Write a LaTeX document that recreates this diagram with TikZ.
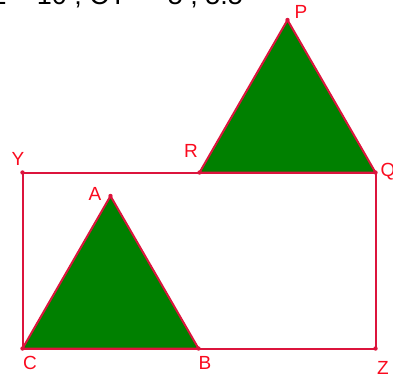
\documentclass[tikz,border=0pt]{standalone}
\usepackage{fontspec}
\setmainfont{Liberation Sans}
\definecolor{edgeCol}{RGB}{220,20,60}
\definecolor{labelCol}{RGB}{250,10,30}
\definecolor{triFill}{RGB}{0,128,0}
\tikzset{
    edge/.style={edgeCol, line width=2pt, line join=round},
    tri/.style={fill=triFill, draw=edgeCol, line width=2pt, line join=round},
    vlabel/.style={text=labelCol, inner sep=0pt, font=\fontsize{19}{22}\selectfont},
    common settings/.style={x=1pt, y=-1pt}
}

\begin{document}
\begin{tikzpicture}[common settings]

    % Frame (pixel grid, y going down)
    \useasboundingbox (0,0) rectangle (393,380);
    \clip (0,0) rectangle (393,380);

    % 1. Vertices
    \coordinate (C) at (22.5,348.5);
    \coordinate (B) at (198.5,348.5);
    \coordinate (A) at (110.5,196);
    \coordinate (Z) at (375.5,348.5);
    \coordinate (Y) at (22.5,172.5);
    \coordinate (R) at (199.5,172.5);
    \coordinate (Q) at (375.5,172.5);
    \coordinate (P) at (287.5,20);

    % Heading (cut off by the top edge)
    \node[anchor=base west, inner sep=0pt, font=\fontsize{27}{30}\selectfont] (head) at (-30,5)
        {CZ = 10 ; CY =\hspace{10pt} 5 , 5.5};

    % 2. Rectangle CZQY
    \draw[edge] (C) -- (Z) -- (Q) -- (Y) -- cycle;

    % 3. Triangles
    \path[tri] (C) -- (B) -- (A) -- cycle;
    \path[tri] (R) -- (Q) -- (P) -- cycle;

    % Vertex dots
    \foreach \v in {A,B,C,P,Q,R,Y,Z} {
        \fill[edgeCol] (\v) circle (2.2);
    }

    % 4. Labels
    \node[vlabel] (labA) at (95,194) {A};
    \node[vlabel] (labB) at (205,363) {B};
    \node[vlabel] (labC) at (30,363) {C};
    \node[vlabel] (labZ) at (383,368) {Z};
    \node[vlabel] (labY) at (18,159) {Y};
    \node[vlabel] (labR) at (191,151) {R};
    \node[vlabel] (labQ) at (388,172) {Q};
    \node[vlabel] (labP) at (301,12) {P};

\end{tikzpicture}
\end{document}
